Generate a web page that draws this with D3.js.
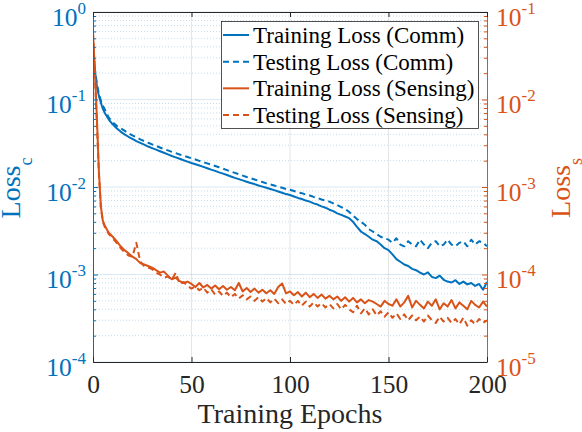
<!DOCTYPE html>
<html>
<head>
<meta charset="utf-8">
<script src="https://cdn.jsdelivr.net/npm/d3@7"></script>
<style>
  body { margin: 0; background: #fff; }
</style>
</head>
<body>
<div id="chart"></div>
<script>
// epochs at which the losses were sampled
const epochs = [0, 1, 2, 3, 4, 5, 6,
  8, 10, 12, 14, 16, 18, 20, 22, 24, 26,
  28, 30, 32, 34, 36, 38, 40, 42, 44, 46,
  48, 50, 52, 54, 56, 58, 60, 62, 64, 66,
  68, 70, 72, 74, 76, 78, 80, 82, 84, 86,
  88, 90, 92, 94, 96, 98, 100, 102, 104, 106,
  108, 110, 112, 114, 116, 118, 120, 122, 124, 126,
  128, 130, 132, 134, 136, 138, 140, 142, 144, 146,
  148, 150, 152, 154, 156, 158, 160, 162, 164, 166,
  168, 170, 172, 174, 176, 178, 180, 182, 184, 186,
  188, 190, 192, 194, 196, 198, 200];

// communication losses (left axis)
const trainComm = [0.38, 0.21, 0.14, 0.11, 0.092, 0.078, 0.07,
  0.059, 0.052, 0.047, 0.043, 0.04, 0.0375, 0.0355, 0.0335, 0.032, 0.0305,
  0.029, 0.0278, 0.0267, 0.0256, 0.0246, 0.0236, 0.0226, 0.0218, 0.021, 0.0202,
  0.0195, 0.0188, 0.0182, 0.0176, 0.017, 0.0164, 0.0158, 0.0153, 0.0147, 0.0142,
  0.0137, 0.0132, 0.0127, 0.0123, 0.0119, 0.0115, 0.0111, 0.0108, 0.0104, 0.0101,
  0.0098, 0.0095, 0.0092, 0.0089, 0.0086, 0.0083, 0.0081, 0.0078, 0.0075, 0.0073,
  0.007, 0.0068, 0.0065, 0.0063, 0.006, 0.0058, 0.0055, 0.0053, 0.005, 0.0048,
  0.0046, 0.0044, 0.004, 0.0035, 0.0031, 0.0029, 0.0027, 0.0025, 0.0024, 0.0022,
  0.002, 0.0019, 0.0017, 0.0015, 0.0014, 0.0013, 0.00125, 0.00116, 0.00112, 0.00105,
  0.001, 0.00106, 0.00094, 0.00091, 0.00097, 0.00087, 0.00083, 0.00081, 0.00086, 0.00078,
  0.00083, 0.00077, 0.0008, 0.00074, 0.00078, 0.00067, 0.00082];

const testComm = [0.4, 0.22, 0.15, 0.115, 0.097, 0.085, 0.077,
  0.062, 0.055, 0.05, 0.047, 0.044, 0.041, 0.039, 0.037, 0.035, 0.0335,
  0.032, 0.0307, 0.0295, 0.0283, 0.0272, 0.0262, 0.0252, 0.0244, 0.0235, 0.0227,
  0.022, 0.0213, 0.0206, 0.0199, 0.0192, 0.0186, 0.018, 0.0174, 0.0168, 0.0162,
  0.0156, 0.015, 0.0145, 0.014, 0.0135, 0.013, 0.0126, 0.0122, 0.0118, 0.0114,
  0.011, 0.0107, 0.0104, 0.0101, 0.0098, 0.0095, 0.0093, 0.009, 0.0087, 0.0085,
  0.0082, 0.008, 0.0077, 0.0075, 0.0072, 0.007, 0.0068, 0.0065, 0.0062, 0.0059,
  0.0056, 0.0052, 0.0047, 0.0043, 0.004, 0.0037, 0.0033, 0.0031, 0.0029, 0.0027,
  0.0026, 0.0025, 0.0023, 0.0026, 0.0022, 0.0021, 0.0024, 0.0022, 0.0021, 0.0025,
  0.0022, 0.002, 0.0023, 0.0024, 0.0021, 0.0022, 0.0025, 0.0022, 0.0021, 0.0023,
  0.0024, 0.0021, 0.0025, 0.0022, 0.0024, 0.0023, 0.0021];

// sensing losses (right axis)
const trainSens = [0.058, 0.02, 0.006, 0.0015, 0.0006, 0.00041, 0.00036,
  3.0e-4, 2.7e-4, 2.4e-4, 2.1e-4, 1.9e-4, 1.75e-4, 1.6e-4, 1.5e-4, 1.35e-4, 1.3e-4,
  1.25e-4, 1.2e-4, 1.12e-4, 1.05e-4, 1.08e-4, 9.7e-5, 8.8e-5, 9.2e-5, 8.4e-5, 8.0e-5,
  8.3e-5, 7.8e-5, 7.2e-5, 8.0e-5, 7.1e-5, 7.6e-5, 6.9e-5, 7.5e-5, 6.8e-5, 7.4e-5,
  6.7e-5, 7.2e-5, 6.6e-5, 8.0e-5, 6.4e-5, 7.0e-5, 6.3e-5, 6.9e-5, 6.2e-5, 6.7e-5,
  6.1e-5, 6.6e-5, 6.0e-5, 7.2e-5, 7.9e-5, 6.1e-5, 6.4e-5, 5.8e-5, 6.3e-5, 5.6e-5,
  6.2e-5, 5.5e-5, 6.0e-5, 5.4e-5, 5.9e-5, 5.3e-5, 5.7e-5, 5.2e-5, 5.6e-5, 5.0e-5,
  5.5e-5, 4.9e-5, 5.4e-5, 4.8e-5, 5.2e-5, 4.7e-5, 5.1e-5, 4.9e-5, 4.6e-5, 4.3e-5,
  5.0e-5, 4.6e-5, 4.4e-5, 5.2e-5, 4.3e-5, 4.8e-5, 5.7e-5, 4.2e-5, 5.0e-5, 4.5e-5,
  4.1e-5, 4.9e-5, 4.4e-5, 5.2e-5, 4.0e-5, 4.7e-5, 4.3e-5, 5.1e-5, 4.1e-5, 4.8e-5,
  4.4e-5, 4.0e-5, 5.0e-5, 4.5e-5, 4.2e-5, 4.9e-5, 4.3e-5];

const testSens = [0.058, 0.018, 0.005, 0.0014, 0.00058, 0.0004, 0.00035,
  2.9e-4, 2.6e-4, 2.3e-4, 2.0e-4, 1.8e-4, 1.65e-4, 1.6e-4, 2.3e-4, 1.4e-4, 1.25e-4,
  1.2e-4, 1.15e-4, 1.05e-4, 1.0e-4, 9.2e-5, 9.5e-5, 8.7e-5, 1.05e-4, 7.8e-5, 8.2e-5,
  7.4e-5, 6.9e-5, 7.3e-5, 6.6e-5, 7.1e-5, 6.2e-5, 6.8e-5, 5.9e-5, 6.4e-5, 5.7e-5,
  6.2e-5, 5.5e-5, 6.0e-5, 5.3e-5, 5.8e-5, 5.2e-5, 5.6e-5, 5.0e-5, 5.5e-5, 4.9e-5,
  5.4e-5, 4.8e-5, 5.3e-5, 4.7e-5, 5.2e-5, 4.6e-5, 5.0e-5, 4.5e-5, 5.0e-5, 4.4e-5,
  4.9e-5, 4.3e-5, 4.8e-5, 4.3e-5, 4.7e-5, 4.2e-5, 4.6e-5, 4.1e-5, 4.6e-5, 4.0e-5,
  4.5e-5, 4.0e-5, 3.7e-5, 4.4e-5, 3.6e-5, 4.1e-5, 3.5e-5, 4.0e-5, 3.4e-5, 3.8e-5,
  3.3e-5, 3.7e-5, 3.2e-5, 3.6e-5, 3.1e-5, 3.5e-5, 3.0e-5, 3.4e-5, 3.0e-5, 3.3e-5,
  2.9e-5, 3.4e-5, 3.0e-5, 2.8e-5, 3.3e-5, 2.9e-5, 3.2e-5, 2.8e-5, 3.1e-5, 2.7e-5,
  3.2e-5, 2.6e-5, 3.0e-5, 2.7e-5, 3.1e-5, 2.8e-5, 3.0e-5];

// tick values and legend labels
const xTicks = [0, 50, 100, 150, 200];
const legendLabels = ["Training Loss (Comm)", "Testing Loss (Comm)",
  "Training Loss (Sensing)", "Testing Loss (Sensing)"];

const blue = "#0072BD";
const orange = "#D95319";
const axisGray = "#262626";
const serifFont = '"Liberation Serif"';

const width = 582;
const height = 432;
const margin = { top: 12, right: 95, bottom: 70, left: 93 };
const plotW = width - margin.left - margin.right;
const plotH = height - margin.top - margin.bottom;

//scales: linear epochs, two log axes
const xScale = d3.scaleLinear().domain([0, 200]).range([0, plotW]);
const yLeft = d3.scaleLog().domain([1e-4, 1]).range([plotH, 0]);
const yRight = d3.scaleLog().domain([1e-5, 1e-1]).range([plotH, 0]);

const isDecade = (d) => Math.abs(Math.log10(d) - Math.round(Math.log10(d))) < 1e-6;
const majorL = yLeft.ticks().filter(isDecade);
const minorL = yLeft.ticks().filter((d) => !isDecade(d));
const majorR = yRight.ticks().filter(isDecade);
const minorR = yRight.ticks().filter((d) => !isDecade(d));

const svg = d3
  .select("#chart")
  .append("svg")
  .attr("width", width)
  .attr("height", height)
  .style("background", "#fff");

const g = svg.append("g").attr("transform", `translate(${margin.left},${margin.top})`);

//grid lines: minor dotted, major solid
g.append("g")
  .selectAll("line")
  .data(minorL)
  .join("line")
  .attr("x1", 0)
  .attr("x2", plotW)
  .attr("y1", (d) => yLeft(d))
  .attr("y2", (d) => yLeft(d))
  .attr("stroke", blue)
  .attr("stroke-opacity", 0.3)
  .attr("stroke-width", 0.8)
  .attr("stroke-dasharray", "1,2");

g.append("g")
  .selectAll("line")
  .data(majorL)
  .join("line")
  .attr("x1", 0)
  .attr("x2", plotW)
  .attr("y1", (d) => yLeft(d))
  .attr("y2", (d) => yLeft(d))
  .attr("stroke", blue)
  .attr("stroke-opacity", 0.15)
  .attr("stroke-width", 1);

g.append("g")
  .selectAll("line")
  .data(xTicks.slice(1, -1))
  .join("line")
  .attr("x1", (d) => xScale(d))
  .attr("x2", (d) => xScale(d))
  .attr("y1", 0)
  .attr("y2", plotH)
  .attr("stroke", axisGray)
  .attr("stroke-opacity", 0.12)
  .attr("stroke-width", 1);

//data lines
g.append("clipPath")
  .attr("id", "plotclip")
  .append("rect")
  .attr("width", plotW)
  .attr("height", plotH);

const series = [
  { values: trainComm, scale: yLeft, color: blue, dash: null },
  { values: testComm, scale: yLeft, color: blue, dash: "6,4" },
  { values: trainSens, scale: yRight, color: orange, dash: null },
  { values: testSens, scale: yRight, color: orange, dash: "6,4" },
];

const lines = g.append("g").attr("clip-path", "url(#plotclip)");
series.forEach((s) => {
  const line = d3
    .line()
    .x((d, i) => xScale(epochs[i]))
    .y((d) => s.scale(d));
  lines
    .append("path")
    .datum(s.values)
    .attr("fill", "none")
    .attr("stroke", s.color)
    .attr("stroke-width", 2)
    .attr("stroke-linejoin", "round")
    .attr("stroke-dasharray", s.dash)
    .attr("d", line);
});

//writes "10" with the exponent raised
function powerLabel(sel) {
  sel.each(function (d) {
    const t = d3.select(this).attr("dy", null).attr("y", 13).text(null);
    t.append("tspan").text("10");
    t.append("tspan")
      .attr("dy", -12)
      .attr("font-size", 17)
      .text(String(Math.round(Math.log10(d))));
  });
}

//left axis
const leftAxis = g
  .append("g")
  .call(d3.axisLeft(yLeft).tickValues(majorL).tickSizeInner(-5).tickSizeOuter(0).tickPadding(7).tickFormat(() => ""));
leftAxis.attr("font-family", null);
leftAxis.select(".domain").attr("stroke", blue);
leftAxis.selectAll(".tick line").attr("stroke", blue);
leftAxis
  .selectAll(".tick text")
  .attr("fill", blue)
  .attr("font-size", 25.5)
  .call(powerLabel);
g.append("g")
  .call(d3.axisLeft(yLeft).tickValues(minorL).tickSizeInner(-3).tickSizeOuter(0).tickFormat(() => ""))
  .call((a) => a.select(".domain").remove())
  .selectAll(".tick line")
  .attr("stroke", blue);

//right axis
const rightAxis = g
  .append("g")
  .attr("transform", `translate(${plotW},0)`)
  .call(d3.axisRight(yRight).tickValues(majorR).tickSizeInner(-5).tickSizeOuter(0).tickPadding(9).tickFormat(() => ""));
rightAxis.attr("font-family", null);
rightAxis.select(".domain").attr("stroke", orange);
rightAxis.selectAll(".tick line").attr("stroke", orange);
rightAxis
  .selectAll(".tick text")
  .attr("fill", orange)
  .attr("font-size", 25.5)
  .call(powerLabel);
g.append("g")
  .attr("transform", `translate(${plotW},0)`)
  .call(d3.axisRight(yRight).tickValues(minorR).tickSizeInner(-3).tickSizeOuter(0).tickFormat(() => ""))
  .call((a) => a.select(".domain").remove())
  .selectAll(".tick line")
  .attr("stroke", orange);

//bottom and top axes
const bottomAxis = g
  .append("g")
  .attr("transform", `translate(0,${plotH})`)
  .call(d3.axisBottom(xScale).tickValues(xTicks).tickSizeInner(-5).tickSizeOuter(0).tickPadding(13));
bottomAxis.attr("font-family", null);
bottomAxis.select(".domain").attr("stroke", axisGray);
bottomAxis.selectAll(".tick line").attr("stroke", axisGray);
bottomAxis
  .selectAll(".tick text")
  .attr("fill", axisGray)
  .attr("font-size", 25.5);

const topAxis = g
  .append("g")
  .call(d3.axisTop(xScale).tickValues(xTicks).tickSizeInner(-5).tickSizeOuter(0).tickFormat(() => ""));
topAxis.select(".domain").attr("stroke", axisGray);
topAxis.selectAll(".tick line").attr("stroke", axisGray);

//axis titles
svg.append("text")
  .attr("x", margin.left + plotW / 2)
  .attr("y", 423)
  .attr("text-anchor", "middle")
  .attr("font-size", 28)
  .attr("fill", axisGray)
  .text("Training Epochs");

function yTitle(x, color, sub) {
  const t = svg
    .append("text")
    .attr("transform", `translate(${x},188) rotate(-90)`)
    .attr("text-anchor", "middle")
    .attr("font-size", 28)
    .attr("fill", color);
  t.append("tspan").text("Loss");
  t.append("tspan").attr("dy", 12).attr("font-size", 18).text(sub);
}
yTitle(20, blue, "c");
yTitle(570, orange, "s");

//legend
const legend = svg.append("g");
legend
  .append("rect")
  .attr("x", 221.5)
  .attr("y", 21.5)
  .attr("width", 257)
  .attr("height", 107)
  .attr("fill", "#fff")
  .attr("stroke", axisGray)
  .attr("stroke-width", 0.8);

const rowY = d3.scalePoint().domain(legendLabels).range([35, 115]);
legendLabels.forEach((label, i) => {
  const s = series[i];
  legend
    .append("line")
    .attr("x1", 223)
    .attr("x2", 249)
    .attr("y1", rowY(label))
    .attr("y2", rowY(label))
    .attr("stroke", s.color)
    .attr("stroke-width", 2)
    .attr("stroke-dasharray", s.dash);
  legend
    .append("text")
    .attr("x", 253)
    .attr("y", rowY(label) + 8)
    .attr("font-size", 23)
    .attr("fill", "#000")
    .text(label);
});

//serif font on every text and tspan
svg.selectAll("text, tspan").style("font-family", serifFont);
</script>
</body>
</html>
